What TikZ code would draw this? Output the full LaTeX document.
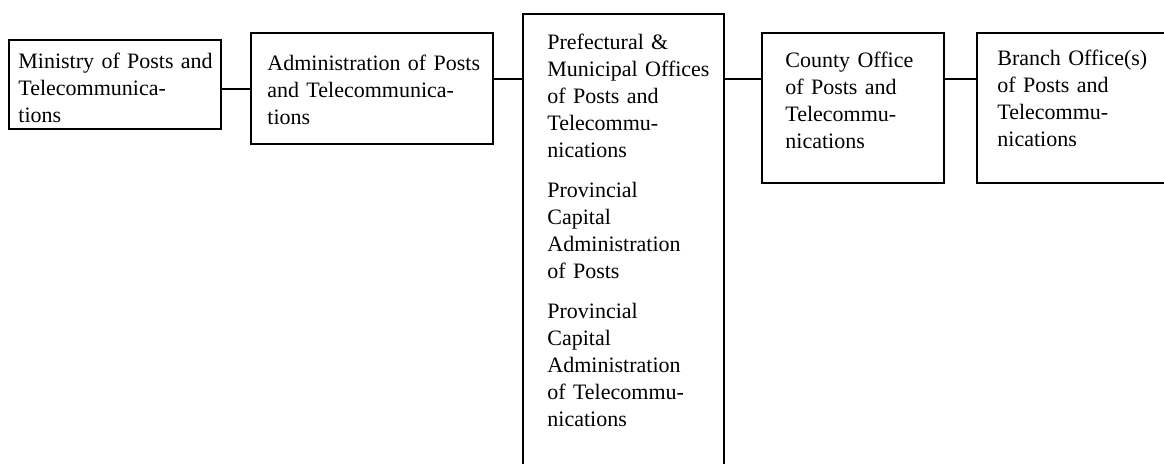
\documentclass[tikz,border=0pt]{standalone}
\usepackage{fontspec}
\setmainfont{Liberation Serif}

\tikzset{
  office/.style={draw, line width=1.2pt, anchor=north west, inner sep=0pt},
  officetext/.style={anchor=base west, align=left, inner sep=0pt, text width=#1,
    font=\fontsize{11}{13.5}\selectfont},
  link/.style={line width=1pt}
}

\begin{document}
\begin{tikzpicture}[x=0.5pt, y=-0.5pt]
        \useasboundingbox (0,0) rectangle (1164,463);
        \fill[white] (0,0) rectangle (1164,463);
        \clip (0,0) rectangle (1164,463);

        % Draw the offices, top level on the left
        \node[office, minimum width=106pt, minimum height=44.5pt] (ministry) at (8,39) {};
        \node[office, minimum width=121pt, minimum height=55.5pt] (admin) at (250,32) {};
        \node[office, minimum width=100.5pt, minimum height=240pt] (prefect) at (522,13) {};
        \node[office, minimum width=91pt, minimum height=75pt] (county) at (761,32) {};
        \node[office, minimum width=110pt, minimum height=75pt] (branch) at (976,32) {};

        % Office names
        \node[officetext=101pt] (ministry-t) at ([shift={(10,29)}]ministry.north west)
          {Ministry of Posts and\\Telecommunica-\\tions};
        \node[officetext=112pt] (admin-t) at ([shift={(17,38)}]admin.north west)
          {Administration of Posts\\and Telecommunica-\\tions};
        \node[officetext=88pt] (prefect-t) at ([shift={(25,36)}]prefect.north west)
          {Prefectural \&\\Municipal Offices\\of Posts and\\Telecommu-\\nications\\[6.5pt]
           Provincial\\Capital\\Administration\\of Posts\\[6.5pt]
           Provincial\\Capital\\Administration\\of Telecommu-\\nications};
        \node[officetext=79pt] (county-t) at ([shift={(24,35)}]county.north west)
          {County Office\\of Posts and\\Telecommu-\\nications};
        \node[officetext=99pt] (branch-t) at ([shift={(21,33)}]branch.north west)
          {Branch Office(s)\\of Posts and\\Telecommu-\\nications};

        % Connecting lines
        \coordinate (spine) at (0,79);
        \draw[link] (ministry.east |- admin.west) -- (admin.west);
        \draw[link] (admin.east |- spine) -- (prefect.west |- spine);
        \draw[link] (prefect.east |- spine) -- (county.west |- spine);
        \draw[link] (county.east |- spine) -- (branch.west |- spine);

\end{tikzpicture}
\end{document}
